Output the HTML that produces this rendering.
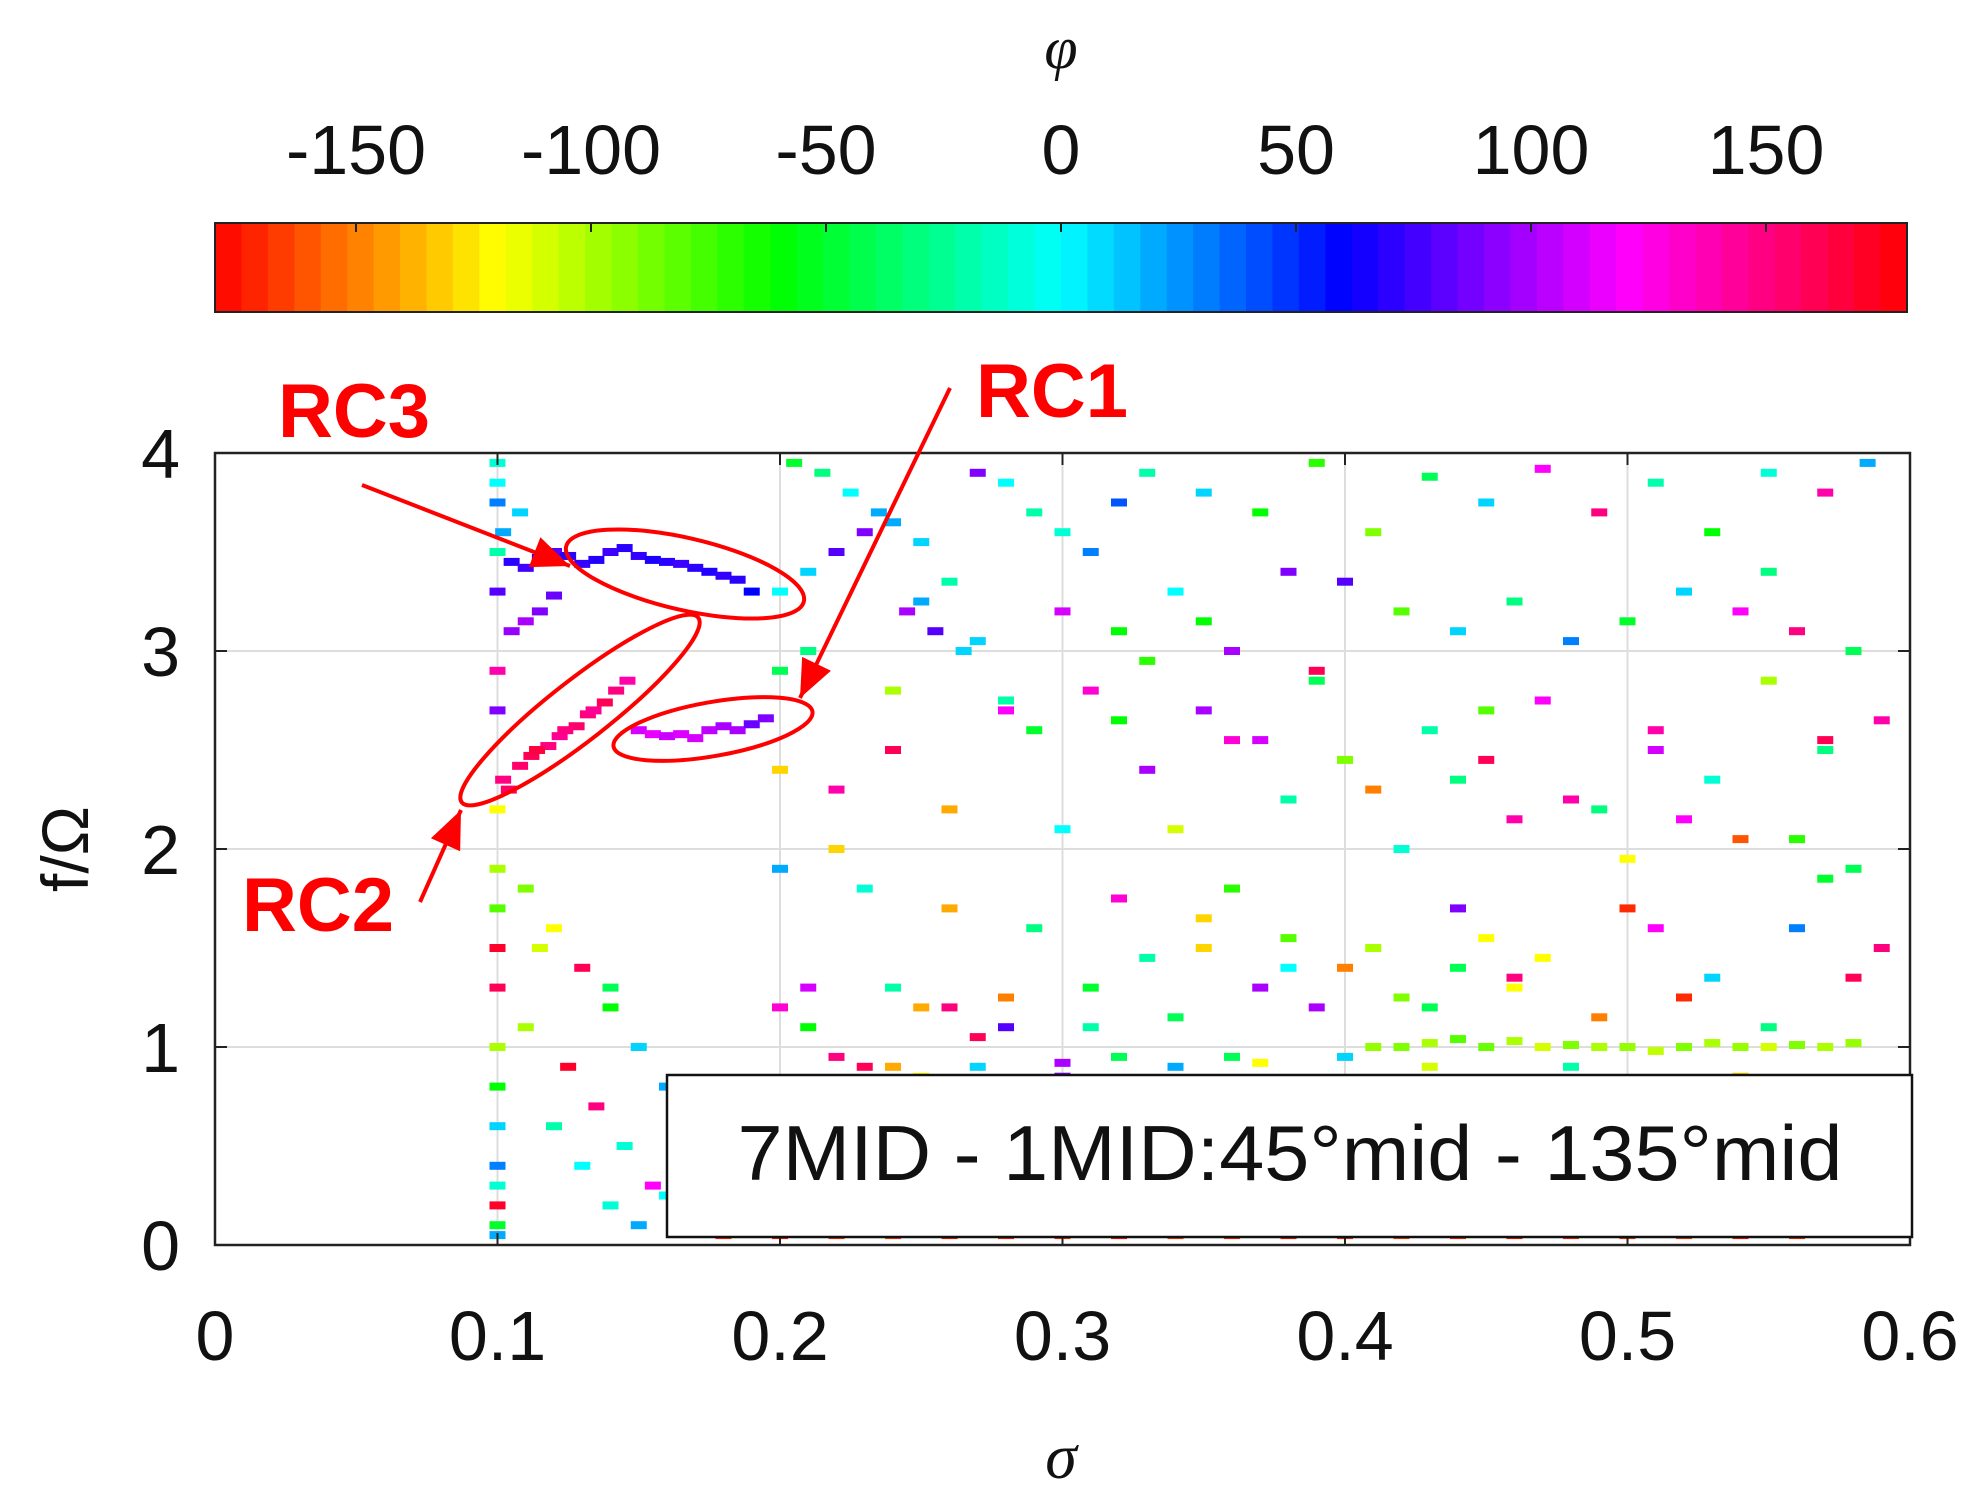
<!DOCTYPE html>
<html><head><meta charset="utf-8">
<style>
html,body{margin:0;padding:0;background:#fff;}
svg{display:block;font-family:"Liberation Sans",sans-serif;}
</style></head>
<body>
<svg id="chart" width="1978" height="1500" viewBox="0 0 1978 1500" xmlns="http://www.w3.org/2000/svg">
<g id="cbar"></g>
<g id="plot"></g>
</svg>
<script>
const xTicks=[0,0.1,0.2,0.3,0.4,0.5,0.6];
const yTicks=[0,1,2,3,4];
const cTicks=[-150,-100,-50,0,50,100,150];
// points: sigma, f/Omega, phi
const sig=[0.105,0.11,0.115,0.12,0.125,0.13,0.135,0.14,0.145,0.15,0.155,0.16,0.165,0.17,0.175,0.18,0.185,0.19,
0.15,0.155,0.16,0.165,0.17,0.175,0.18,0.185,0.19,0.195,
0.102,0.108,0.112,0.118,0.122,0.128,0.132,0.138,0.142,0.146,0.104,0.114,0.124,0.134,
0.105,0.11,0.115,0.12,0.102,0.108,
0.1,0.1,0.1,0.1,0.1,0.1,0.1,0.1,0.1,0.1,0.1,0.1,0.1,0.1,0.1,0.1,0.1,0.1,0.1,0.1,
0.11,0.12,0.13,0.14,0.15,0.16,0.12,0.13,0.14,0.11,0.125,0.135,0.145,0.155,0.165,0.115,0.14,0.15,0.16,0.17,
0.2,0.21,0.22,0.23,0.24,0.25,0.26,0.205,0.215,0.225,0.235,0.245,0.255,0.265,0.27,0.28,0.29,0.3,0.31,0.32,
0.2,0.22,0.24,0.26,0.28,0.3,0.33,0.35,0.37,0.39,0.41,0.43,0.45,0.47,0.49,0.51,0.53,0.55,0.57,0.585,
0.3,0.32,0.34,0.36,0.38,0.4,0.42,0.44,0.46,0.48,0.5,0.52,0.54,0.56,0.58,0.31,0.35,0.39,0.43,0.47,
0.51,0.55,0.59,0.33,0.37,0.41,0.45,0.49,0.53,0.57,0.29,0.34,0.38,0.42,0.46,0.5,0.54,0.58,0.36,0.44,
0.2,0.23,0.26,0.29,0.32,0.35,0.38,0.41,0.44,0.47,0.5,0.53,0.56,0.59,0.21,0.25,0.28,0.31,0.34,0.37,
0.4,0.43,0.46,0.49,0.52,0.55,0.58,0.22,0.27,0.33,0.39,0.45,0.51,0.57,0.24,0.3,0.36,0.42,0.48,0.54,
0.41,0.42,0.43,0.45,0.46,0.47,0.48,0.5,0.51,0.52,0.53,0.54,0.55,0.56,0.57,0.58,0.44,0.49,
0.18,0.2,0.22,0.24,0.26,0.28,0.3,0.32,0.34,0.36,0.38,0.4,0.42,0.44,0.46,0.48,0.5,0.52,0.54,0.56,
0.2,0.24,0.28,0.32,0.36,0.4,0.44,0.48,0.52,0.56,0.21,0.27,0.33,0.39,0.45,0.51,0.57,0.25,0.35,0.55,
0.22,0.23,0.25,0.27,0.3,0.32,0.34,0.37,0.4,0.43,0.2,0.21,0.24,0.26,0.28,0.31,0.35,0.38,0.42,0.46];
const fOm=[3.45,3.42,3.47,3.5,3.48,3.44,3.46,3.5,3.52,3.48,3.46,3.45,3.44,3.42,3.4,3.38,3.36,3.3,
2.6,2.58,2.57,2.58,2.56,2.6,2.62,2.6,2.63,2.66,
2.35,2.42,2.47,2.52,2.57,2.62,2.68,2.74,2.8,2.85,2.3,2.5,2.6,2.7,
3.1,3.15,3.2,3.28,3.6,3.7,
3.95,3.85,3.75,3.5,3.3,2.9,2.7,2.2,1.9,1.7,1.5,1.3,1.0,0.8,0.6,0.4,0.3,0.2,0.1,0.05,
1.8,1.6,1.4,1.2,1.0,0.8,0.6,0.4,0.2,1.1,0.9,0.7,0.5,0.3,0.15,1.5,1.3,0.1,0.25,0.35,
3.3,3.4,3.5,3.6,3.65,3.55,3.35,3.95,3.9,3.8,3.7,3.2,3.1,3.0,3.9,3.85,3.7,3.6,3.5,3.75,
2.4,2.3,2.5,2.2,2.7,2.1,3.9,3.8,3.7,3.95,3.6,3.88,3.75,3.92,3.7,3.85,3.6,3.9,3.8,3.95,
3.2,3.1,3.3,3.0,3.4,3.35,3.2,3.1,3.25,3.05,3.15,3.3,3.2,3.1,3.0,2.8,2.7,2.9,2.6,2.75,
2.5,2.85,2.65,2.4,2.55,2.3,2.45,2.2,2.35,2.5,2.6,2.1,2.25,2.0,2.15,1.95,2.05,1.9,1.8,1.7,
1.9,1.8,1.7,1.6,1.75,1.65,1.55,1.5,1.4,1.45,1.7,1.35,1.6,1.5,1.3,1.2,1.25,1.1,1.15,1.3,
1.4,1.2,1.3,1.15,1.25,1.1,1.35,2.0,1.05,1.45,1.2,1.55,1.6,1.85,0.9,0.85,0.95,0.8,0.9,0.85,
1.0,1.0,1.02,1.0,1.03,1.0,1.01,1.0,0.98,1.0,1.02,1.0,1.0,1.01,1.0,1.02,1.04,1.0,
0.05,0.05,0.05,0.05,0.05,0.05,0.05,0.05,0.05,0.05,0.05,0.05,0.05,0.05,0.05,0.05,0.05,0.05,0.05,0.05,
2.9,2.8,2.75,2.65,2.55,2.45,2.35,2.25,2.15,2.05,3.0,3.05,2.95,2.85,2.7,2.6,2.55,3.25,3.15,3.4,
0.95,0.9,0.85,0.9,0.92,0.95,0.9,0.92,0.95,0.9,1.2,1.1,1.3,1.2,1.1,1.3,1.5,1.4,1.25,1.35];
const phi=[70,75,65,80,70,72,68,75,70,72,66,70,74,70,68,72,70,60,
110,115,108,112,110,105,100,100,85,90,
150,155,160,150,145,155,150,160,150,140,155,165,150,145,
95,100,90,85,20,10,
-10,0,30,-20,80,140,90,-120,-100,-80,170,160,-100,-60,10,30,-10,170,-50,20,
-90,-120,160,-60,10,20,-20,0,-10,-100,170,150,-10,120,30,-110,-40,20,0,160,
0,10,80,90,20,10,-20,-50,-30,0,20,100,80,10,90,0,-20,-10,30,40,
-130,140,160,-140,120,0,-20,10,-60,-70,-90,-40,10,120,150,-20,-60,-10,140,20,
110,-60,0,100,90,80,-80,10,-30,30,-50,10,120,150,-40,130,100,160,-20,120,
110,-100,140,100,110,-150,160,-30,-10,-30,-50,-110,-20,-10,140,-120,-160,-40,-70,90,
20,-10,-140,-30,130,-130,-80,-100,-40,-120,-170,10,30,150,110,-140,-150,-20,-40,100,
-150,-40,-120,-150,-170,-30,160,-130,160,-20,100,-120,120,-50,-140,90,-40,130,-20,-130,
-95,-90,-100,-85,-100,-110,-90,-95,-105,-90,-100,-95,-110,-90,-100,-95,-80,-100,
-170,-175,-170,-165,-175,-170,-170,-175,-165,-170,-175,-170,-165,-170,-175,-170,-170,-165,-175,-170,
-40,-100,-20,-60,130,-90,-30,140,120,-70,-30,10,-70,-40,-80,140,160,20,-60,-30,
150,160,-120,10,100,-40,20,-120,10,-110,130,-60,-20,150,80,-50,-130,0,-90,150];

const NS="http://www.w3.org/2000/svg";
const L=215,R=1910,T=453,B=1245;
const xs=v=>L+(v/0.6)*(R-L);
const ys=v=>B-(v/4)*(B-T);
const CL=215,CR=1907,CT=223,CB=312;
const cs=v=>CL+(v+180)/360*(CR-CL);
const col=p=>`hsl(${(p+180)%360},100%,50%)`;
function mk(tag,attrs,parent,txt){const e=document.createElementNS(NS,tag);for(const k in attrs)e.setAttribute(k,attrs[k]);if(txt!==undefined)e.textContent=txt;parent.appendChild(e);return e;}
const svg=document.getElementById('chart');
const cb=document.getElementById('cbar');
const pl=document.getElementById('plot');

// colorbar
for(let i=0;i<64;i++){const p0=-180+i*360/64;
 const r=mk('rect',{x:cs(p0),y:CT,width:(CR-CL)/64+0.6,height:CB-CT,fill:col(p0+360/128)},cb);
 
 }
mk('rect',{x:CL,y:CT,width:CR-CL,height:CB-CT,fill:'none',stroke:'#222','stroke-width':2},cb);
cTicks.forEach(t=>{mk('line',{x1:cs(t),x2:cs(t),y1:CT,y2:CT+9,stroke:'#222','stroke-width':2},cb);
 const tx=mk('text',{x:cs(t),y:174,'font-size':70,'text-anchor':'middle',fill:'#111'},cb,String(t));
 
 });
const phiT=mk('text',{x:1061,y:68,'font-size':60,'font-style':'italic','font-family':'Liberation Serif,serif','text-anchor':'middle',fill:'#111'},svg,'φ');



// grid
mk('rect',{x:L,y:T,width:R-L,height:B-T,fill:'#fff'},pl);
xTicks.slice(1,-1).forEach(t=>mk('line',{x1:xs(t),x2:xs(t),y1:T,y2:B,stroke:'#ddd','stroke-width':2},pl));
yTicks.slice(1,-1).forEach(t=>mk('line',{x1:L,x2:R,y1:ys(t),y2:ys(t),stroke:'#ddd','stroke-width':2},pl));
// points
for(let i=0;i<sig.length;i++){
 const r=mk('rect',{x:xs(sig[i])-8,y:ys(fOm[i])-4,width:16,height:8,fill:col(phi[i])},pl);
 
 }
mk('rect',{x:L,y:T,width:R-L,height:B-T,fill:'none',stroke:'#222','stroke-width':2.5},pl);
xTicks.forEach(t=>{mk('line',{x1:xs(t),x2:xs(t),y1:B,y2:B-12,stroke:'#222','stroke-width':2},pl);
 mk('line',{x1:xs(t),x2:xs(t),y1:T,y2:T+12,stroke:'#222','stroke-width':2},pl);
 const tx=mk('text',{x:xs(t),y:1360,'font-size':70,'text-anchor':'middle',fill:'#111'},svg,String(t));
 
 });
yTicks.forEach(t=>{mk('line',{x1:L,x2:L+12,y1:ys(t),y2:ys(t),stroke:'#222','stroke-width':2},pl);
 mk('line',{x1:R,x2:R-12,y1:ys(t),y2:ys(t),stroke:'#222','stroke-width':2},pl);
 const tx=mk('text',{x:180,y:ys(t)+25,'font-size':70,'text-anchor':'end',fill:'#111'},svg,String(t));
 
 });
const xt=mk('text',{x:1061,y:1478,'font-size':64,'font-style':'italic','font-family':'Liberation Serif,serif','text-anchor':'middle',fill:'#111'},svg,'σ');


const yt=mk('text',{x:0,y:0,'font-size':66,'text-anchor':'middle',fill:'#111',transform:'translate(88,849) rotate(-90)'},svg,'f/Ω');



// legend box
const lg=mk('g',{},svg);


mk('rect',{x:667,y:1075,width:1245,height:162,fill:'#fff',stroke:'#111','stroke-width':2.5},lg);
mk('text',{x:1290,y:1180,'font-size':78,'text-anchor':'middle',fill:'#111',textLength:1105,lengthAdjust:'spacingAndGlyphs'},lg,'7MID - 1MID:45°mid - 135°mid');

// annotations
const an=mk('g',{fill:'none',stroke:'#f00','stroke-width':4},svg);


mk('ellipse',{cx:685,cy:574,rx:122,ry:36,transform:'rotate(13 685 574)'},an);
mk('ellipse',{cx:580,cy:710,rx:150,ry:30,transform:'rotate(-38 580 710)'},an);
mk('ellipse',{cx:713,cy:729,rx:101,ry:27,transform:'rotate(-10 713 729)'},an);
function arrow(x1,y1,x2,y2){mk('line',{x1,y1,x2,y2},an);
 const a=Math.atan2(y2-y1,x2-x1),h=38,w=16;
 const p=[[x2,y2],[x2-h*Math.cos(a)+w*Math.sin(a),y2-h*Math.sin(a)-w*Math.cos(a)],[x2-h*Math.cos(a)-w*Math.sin(a),y2-h*Math.sin(a)+w*Math.cos(a)]];
 mk('polygon',{points:p.map(q=>q.join(',')).join(' '),fill:'#f00',stroke:'none'},an);}
arrow(362,485,570,566);
arrow(950,388,800,698);
arrow(420,902,461,810);
[['RC3',354,437],['RC1',1052,417],['RC2',318,931]].forEach(d=>{
 const t=mk('text',{x:d[1],y:d[2],'font-size':76,'font-weight':'bold','text-anchor':'middle',fill:'#f00',stroke:'none'},svg,d[0]);
 
 });
</script>
</body></html>
